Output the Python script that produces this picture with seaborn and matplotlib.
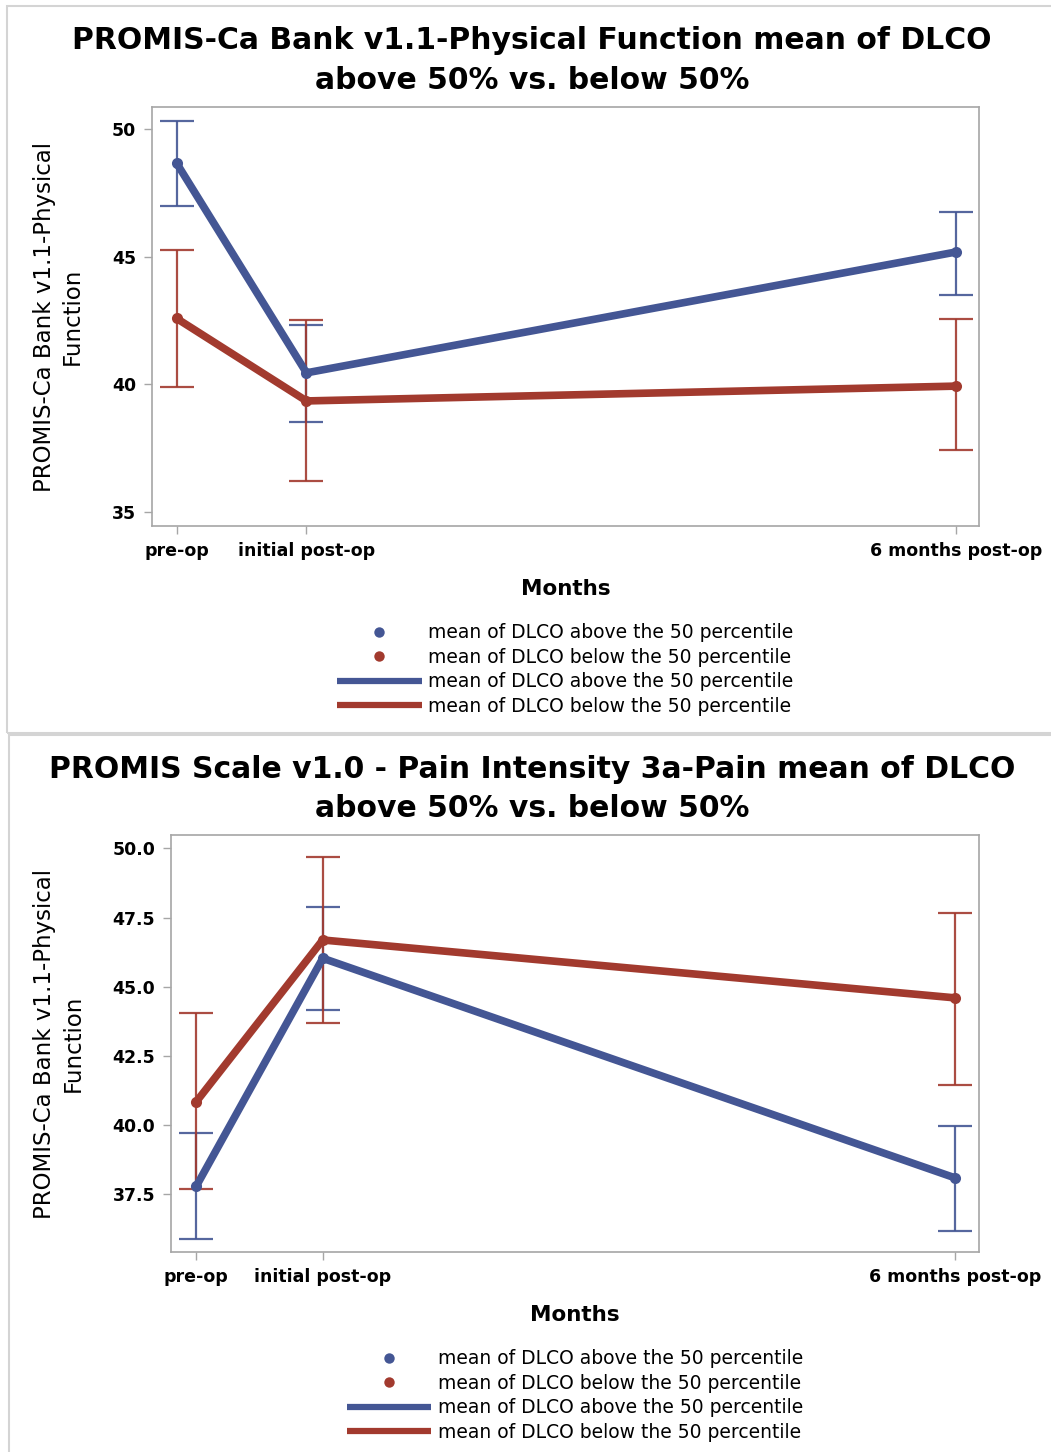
import matplotlib
matplotlib.use("Agg")
import matplotlib.pyplot as plt
from matplotlib.lines import Line2D
from matplotlib.patches import Rectangle
import numpy as np
import pandas as pd
import seaborn as sns

# x positions (months) and tick labels
months = [0, 1, 6]
month_labels = ["pre-op", "initial post-op", "6 months post-op"]
groups = ["mean of DLCO above the 50 percentile", "mean of DLCO below the 50 percentile"]

# Panel 1: Physical Function
pf_above_mean = [48.66, 40.45, 45.18]
pf_above_lo = [47.00, 38.52, 43.50]
pf_above_hi = [50.32, 42.34, 46.76]
pf_below_mean = [42.58, 39.35, 39.93]
pf_below_lo = [39.91, 36.22, 37.41]
pf_below_hi = [45.27, 42.51, 42.54]

# Panel 2: Pain Intensity
pi_above_mean = [37.80, 46.03, 38.10]
pi_above_lo = [35.90, 44.15, 36.17]
pi_above_hi = [39.73, 47.87, 39.98]
pi_below_mean = [40.85, 46.69, 44.60]
pi_below_lo = [37.69, 43.68, 41.47]
pi_below_hi = [44.04, 49.67, 47.65]

titles = [
    "PROMIS-Ca Bank v1.1-Physical Function mean of DLCO\nabove 50% vs. below 50%",
    "PROMIS Scale v1.0 - Pain Intensity 3a-Pain mean of DLCO\nabove 50% vs. below 50%",
]
ylabel = "PROMIS-Ca Bank v1.1-Physical\nFunction"

BLUE = "#445694"
RED = "#A23A2E"
GRID_GRAY = "#A6A6A6"

sns.set_style("white")
plt.rcParams["font.family"] = ["DejaVu Sans"]
plt.rcParams["text.color"] = "black"
plt.rcParams["axes.labelcolor"] = "black"
plt.rcParams["xtick.color"] = "black"
plt.rcParams["ytick.color"] = "black"

fig = plt.figure(figsize=(10.51, 14.52), dpi=100)

# panel frames
fig.patches.append(Rectangle((0.0067, 0.4952), 1.0, 0.5007, transform=fig.transFigure,
                             fill=False, edgecolor="#D4D4D4", lw=1.5, zorder=0))
fig.patches.append(Rectangle((0.0086, -0.01), 1.0, 0.5038, transform=fig.transFigure,
                             fill=False, edgecolor="#D4D4D4", lw=1.5, zorder=0))


def draw_panel(ax, above, below, ylim, xlim, yticks, yfmt, ylab_x, legend_anchor, title_y, title):
    a_mean, a_lo, a_hi = above
    b_mean, b_lo, b_hi = below
    df = pd.DataFrame({
        "month": months * 2,
        "mean": list(a_mean) + list(b_mean),
        "group": [groups[0]] * 3 + [groups[1]] * 3,
    })
    # error bars
    for m, lo, hi, c in [(a_mean, a_lo, a_hi, BLUE), (b_mean, b_lo, b_hi, RED)]:
        m = np.array(m)
        err = np.vstack([m - np.array(lo), np.array(hi) - m])
        ax.errorbar(months, m, yerr=err, fmt="none", ecolor=c, elinewidth=1.6,
                    capsize=12, capthick=1.6, alpha=0.9, zorder=2)
    sns.lineplot(data=df, x="month", y="mean", hue="group", palette=[BLUE, RED],
                 marker="o", markersize=8, markeredgewidth=0, lw=5.5,
                 estimator=None, sort=False, legend=False, ax=ax, zorder=3)
    ax.set_xlim(*xlim)
    ax.set_ylim(*ylim)
    ax.set_xticks(months)
    ax.set_xticklabels(month_labels, fontsize=12.5, fontweight="bold")
    ax.set_yticks(yticks)
    ax.set_yticklabels([yfmt.format(v) for v in yticks], fontsize=12.5, fontweight="bold")
    ax.tick_params(axis="both", length=5.5, width=1, color=GRID_GRAY, labelcolor="black",
                   pad=6, bottom=True, left=True)
    for s in ax.spines.values():
        s.set_color(GRID_GRAY)
        s.set_linewidth(1.2)
    ax.set_xlabel("Months", fontsize=15.5, fontweight="bold")
    ax.xaxis.set_label_coords(0.5, -0.15)
    ax.xaxis.label.set_va("center")
    ax.set_ylabel(ylabel, fontsize=16.5, linespacing=1.3)
    ax.yaxis.set_label_coords(ylab_x, 0.5)
    ax.yaxis.label.set_va("center")
    ax.yaxis.label.set_ha("center")

    fig.text(0.506, title_y, title, ha="center", va="center", fontsize=21.5,
             fontweight="bold", linespacing=1.45, color="black")

    handles = [
        Line2D([], [], ls="none", marker="o", color=BLUE, markersize=7.5, markeredgewidth=0),
        Line2D([], [], ls="none", marker="o", color=RED, markersize=7.5, markeredgewidth=0),
        Line2D([], [], color=BLUE, lw=4.5, solid_capstyle="butt"),
        Line2D([], [], color=RED, lw=4.5, solid_capstyle="butt"),
    ]
    labels = [groups[0], groups[1], groups[0], groups[1]]
    fig.legend(handles, labels, loc="center", bbox_to_anchor=legend_anchor, frameon=False,
               fontsize=13.5, handlelength=4.5, handletextpad=0.37, labelspacing=0.29,
               borderaxespad=0, labelcolor="black")


ax1 = fig.add_axes([0.1446, 0.6377, 0.7869, 0.2886])
draw_panel(ax1, (pf_above_mean, pf_above_lo, pf_above_hi),
           (pf_below_mean, pf_below_lo, pf_below_hi),
           (34.45, 50.86), (-0.19, 6.18), [35, 40, 45, 50], "{:.0f}",
           -0.113, (0.538, 0.5390), 0.9584, titles[0])

ax2 = fig.add_axes([0.1627, 0.1377, 0.7688, 0.2872])
draw_panel(ax2, (pi_above_mean, pi_above_lo, pi_above_hi),
           (pi_below_mean, pi_below_lo, pi_below_hi),
           (35.42, 50.48), (-0.20, 6.19), [37.5, 40.0, 42.5, 45.0, 47.5, 50.0], "{:.1f}",
           -0.139, (0.547, 0.0390), 0.4566, titles[1])

fig.savefig("out.png", dpi=100)
